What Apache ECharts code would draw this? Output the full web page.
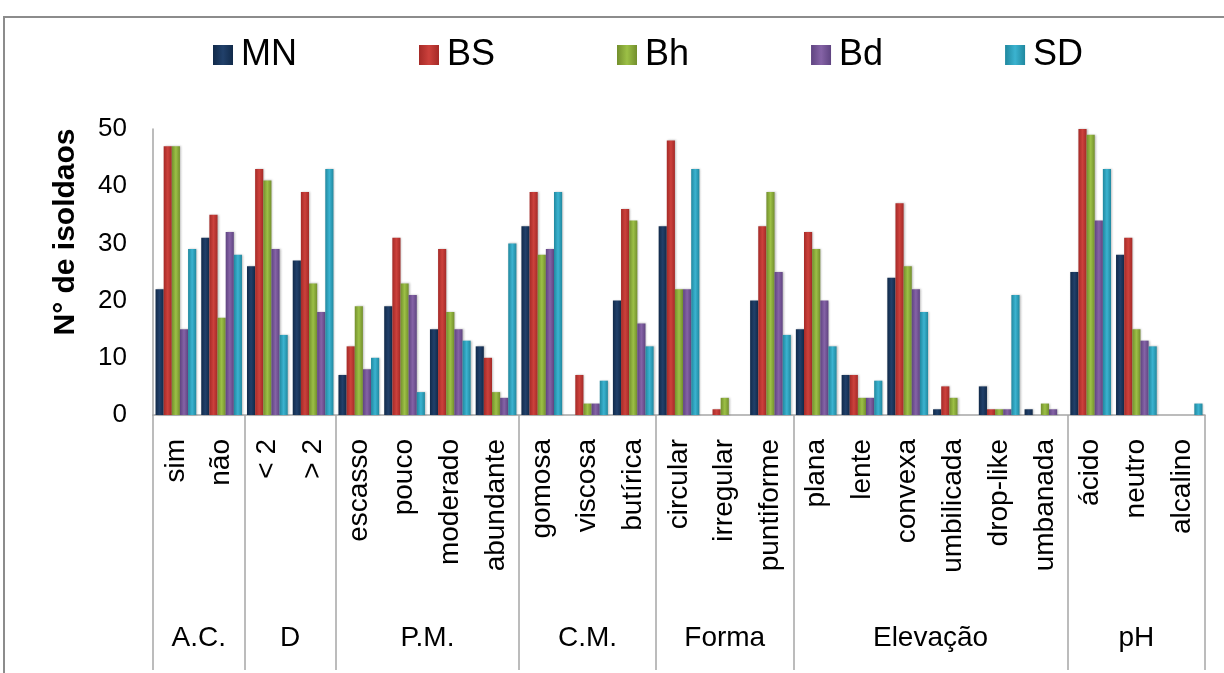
<!DOCTYPE html>
<html>
<head>
<meta charset="utf-8">
<script src="https://cdn.jsdelivr.net/npm/echarts@6/dist/echarts.min.js"></script>
<style>
html,body{margin:0;padding:0;background:#fff;}
#chart{width:1224px;height:673px;}
</style>
</head>
<body>
<div id="chart"></div>
<script>
const categories = ['sim','não','< 2','> 2','escasso','pouco','moderado','abundante','gomosa','viscosa','butírica','circular','irregular','puntiforme','plana','lente','convexa','umbilicada','drop-like','umbanada','ácido','neutro','alcalino'];
const groupNames = ['A.C.','D','P.M.','C.M.','Forma','Elevação','pH'];
const groupSizes = [2,2,4,3,3,6,3];
const seriesNames = ['MN','BS','Bh','Bd','SD'];
const MN = [22,31,26,27,7,19,15,12,33,0,20,33,0,20,15,7,24,1,5,1,25,28,0];
const BS = [47,35,43,39,12,31,29,10,39,7,36,48,1,33,32,7,37,5,1,0,50,31,0];
const Bh = [47,17,41,23,19,23,18,4,28,2,34,22,3,39,29,3,26,3,1,2,49,15,0];
const Bd = [15,32,29,18,8,21,15,3,29,2,16,22,0,25,20,3,22,0,1,1,34,13,0];
const SD = [29,28,14,43,10,4,13,30,39,6,12,43,0,14,12,6,18,0,21,0,43,12,2];
const yTicks = [0,10,20,30,40,50];

const seriesData = [MN,BS,Bh,Bd,SD];
const palette = [
  ['#112a4a','#21406a'],
  ['#a52a27','#cc413c'],
  ['#738f2d','#9cc046'],
  ['#5f4481','#8563a6'],
  ['#20889f','#3bb3d0']
];

// group boundaries and centers computed from the group sizes
const bounds = [0];
groupSizes.forEach(s => bounds.push(bounds[bounds.length-1] + s));
const centers = groupSizes.map((s,i) => bounds[i] + s/2);

const font = 'Liberation Sans, Arial, sans-serif';
const chart = echarts.init(document.getElementById('chart'));
chart.setOption({
  animation:false,
  backgroundColor:'#ffffff',
  graphic:[
    {type:'rect', shape:{x:4,y:17,width:1260,height:720}, style:{fill:'none',stroke:'#8c8c8c',lineWidth:2}, z:-1},
    {type:'text', x:66, y:232, rotation:Math.PI/2,
     style:{text:'N° de isoldaos', font:'bold 30px Liberation Sans, Arial, sans-serif', fill:'#000', textAlign:'center', textVerticalAlign:'middle'}}
  ],
  legend:{
    left:208, top:32, itemWidth:20, itemHeight:20, itemGap:122, icon:'rect',
    textStyle:{fontFamily:font, fontSize:36, color:'#000', padding:[0,0,0,3]},
    data:seriesNames
  },
  grid:{left:153, right:19, top:129, bottom:258, containLabel:false},
  xAxis:[
    {type:'category', data:categories, position:'bottom',
     axisLine:{show:true, lineStyle:{color:'#a6a6a6', width:1.5}},
     axisTick:{show:false},
     axisLabel:{interval:0, rotate:90, margin:24, fontFamily:font, fontSize:28, color:'#000'}
    },
    {type:'value', min:0, max:categories.length, position:'bottom',
     axisLine:{show:false}, splitLine:{show:false},
     axisTick:{show:true, customValues:bounds, length:255, lineStyle:{color:'#a6a6a6', width:1.5}},
     axisLabel:{customValues:centers, margin:209, fontFamily:font, fontSize:28, color:'#000',
       formatter:function(v){ const i = centers.indexOf(v); return i>=0 ? groupNames[i] : ''; }}
    }
  ],
  yAxis:{type:'value', min:0, max:50, interval:10,
    axisLine:{show:true, lineStyle:{color:'#a6a6a6', width:1.5}},
    axisTick:{show:false}, splitLine:{show:false},
    axisLabel:{margin:26, fontFamily:font, fontSize:26, color:'#000',
      customValues:yTicks}
  },
  series: seriesNames.map((n,i) => ({
    name:n, type:'bar', xAxisIndex:0, data:seriesData[i],
    barGap:'0%', barCategoryGap:'11%',
    itemStyle:{
      color:{type:'linear', x:0,y:0,x2:1,y2:0, colorStops:[
        {offset:0,color:palette[i][0]},{offset:0.5,color:palette[i][1]},{offset:1,color:palette[i][0]}]},
      shadowColor:'rgba(0,0,0,0.25)', shadowBlur:2, shadowOffsetX:1
    }
  }))
});
</script>
</body>
</html>
